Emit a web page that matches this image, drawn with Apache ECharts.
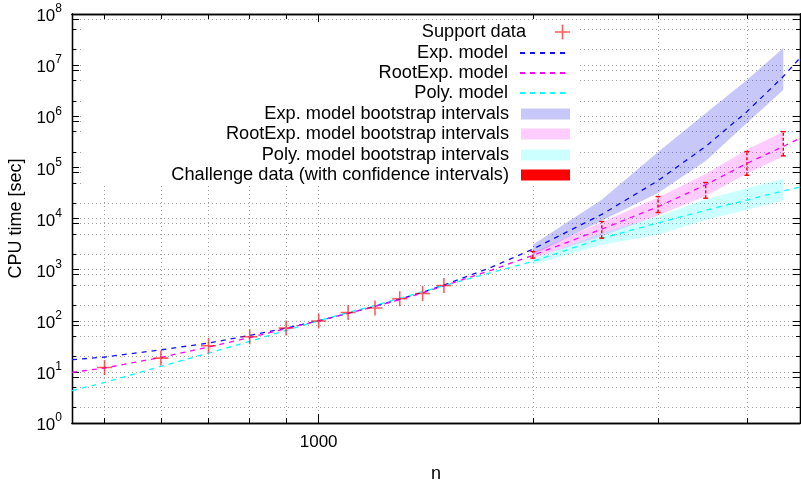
<!DOCTYPE html>
<html>
<head>
<meta charset="utf-8">
<script src="https://cdn.jsdelivr.net/npm/echarts@6/dist/echarts.min.js"></script>
<style>
  html, body { margin: 0; padding: 0; background: #fff; }
  #chart { width: 801px; height: 481px; }
</style>
</head>
<body>
<div id="chart"></div>
<script>
// ---- data ----
var supportN = [500, 600, 700, 800, 900, 1000, 1100, 1200, 1300, 1400, 1500];
var supportT = [12.2, 18.6, 32.4, 48.6, 72, 99, 145, 177, 269, 341, 490];

var modelN    = [450, 500, 600, 700, 800, 900, 1000, 1100, 1200, 1300, 1400, 1500, 1750, 2000, 2500, 3000, 3500, 4000, 4500, 4750];
var expModel  = [17.3, 19.5, 27, 36.6, 51.7, 72, 100, 140, 192, 265, 360, 500, 1120, 2510, 12000, 55000, 257000, 1230000, 6000000, 13800000];
var rootModel = [9.8, 11.9, 19.2, 30.6, 47, 70, 100, 140, 190, 260, 350, 480, 980, 1900, 6200, 17000, 45500, 120000, 257000, 372000];
var polyModel = [4.3, 6.2, 12.8, 23.3, 39.4, 65, 100, 145, 200, 275, 370, 486, 880, 1450, 4100, 8200, 14500, 23000, 34700, 41000];

var bandN      = [2000, 2500, 3000, 3500, 4000, 4500];
var expBandLo  = [1950, 9000, 31700, 134000, 742000, 3270000];
var expBandHi  = [3060, 23200, 200000, 1150000, 5100000, 21700000];
var rootBandLo = [1660, 4520, 11400, 27700, 75700, 165000];
var rootBandHi = [2170, 8490, 25700, 74600, 223000, 500000];
var polyBandLo = [1240, 3060, 4800, 9400, 14800, 22400];
var polyBandHi = [1600, 5200, 11000, 23900, 39000, 59600];

var chalN  = [2000, 2500, 3000, 3500, 4000, 4500];
var chalLo = [1680, 4130, 13100, 25000, 70000, 168000];
var chalHi = [2260, 8730, 26900, 50500, 204000, 500000];

// tick values
var xMajorTicks = [1000];
var xMinorTicks = [500, 600, 700, 800, 900, 2000, 3000, 4000];
var yLabelTicks = [1, 10, 100, 1e3, 1e4, 1e5, 1e6, 1e7, 1e8];
var yMajorTicks = [1, 8, 10, 80, 100, 800, 1e3, 8e3, 1e4, 8e4, 1e5, 8e5, 1e6, 8e6, 1e7, 8e7, 1e8];
var yMinorTicks = [2, 5, 20, 50, 200, 500, 2e3, 5e3, 2e4, 5e4, 2e5, 5e5, 2e6, 5e6, 2e7, 5e7];

var FONT = 'Liberation Sans, Arial, sans-serif';
var gridLine = { show: true, lineStyle: { color: '#a0a0a0', width: 1, type: [1, 3] } };

function xAxisOf(pos, ticks, len, labelled) {
  return {
    type: 'log', logBase: 10, min: 450, max: 4750, position: pos,
    name: labelled ? 'n' : '', nameLocation: 'middle', nameGap: 42,
    nameTextStyle: { fontFamily: FONT, fontSize: 18, color: '#000' },
    axisLine: { show: true, onZero: false, lineStyle: { color: '#000', width: 1.3 } },
    axisTick: { show: true, inside: true, length: len, customValues: ticks, lineStyle: { color: '#000', width: 1 } },
    axisLabel: {
      show: labelled, customValues: ticks, margin: 11, fontFamily: FONT, fontSize: 17, color: '#000',
      formatter: function (v) { return String(Math.round(v)); }
    },
    splitLine: pos === 'bottom' ? gridLine : { show: false },
    minorTick: { show: false }, minorSplitLine: { show: false }
  };
}

function yAxisOf(pos, ticks, len, labelled) {
  return {
    type: 'log', logBase: 10, min: 1, max: 1e8, position: pos,
    name: labelled ? 'CPU time [sec]' : '', nameLocation: 'middle', nameGap: 46,
    nameTextStyle: { fontFamily: FONT, fontSize: 18, color: '#000' },
    axisLine: { show: true, onZero: false, lineStyle: { color: '#000', width: 1.3 } },
    axisTick: { show: true, inside: true, length: len, customValues: ticks, lineStyle: { color: '#000', width: 1 } },
    axisLabel: {
      show: labelled, customValues: yLabelTicks, margin: 10,
      formatter: function (v) { return '{b|10}{s|' + Math.round(Math.log10(v)) + '}'; },
      rich: {
        b: { fontFamily: FONT, fontSize: 17, color: '#000', lineHeight: 22, verticalAlign: 'bottom' },
        s: { fontFamily: FONT, fontSize: 12, color: '#000', lineHeight: 22, verticalAlign: 'top' }
      }
    },
    splitLine: pos === 'left' ? gridLine : { show: false },
    minorTick: { show: false }, minorSplitLine: { show: false }
  };
}

function pairs(xs, ys) {
  return xs.map(function (x, i) { return [x, ys[i]]; });
}

function bandSegments(lo, hi) {
  var out = [];
  for (var i = 0; i < bandN.length - 1; i++) {
    out.push([bandN[i], lo[i], bandN[i + 1], lo[i + 1], hi[i + 1], hi[i]]);
  }
  return out;
}

function renderBand(params, api) {
  var a = api.coord([api.value(0), api.value(1)]);
  var b = api.coord([api.value(2), api.value(3)]);
  var c = api.coord([api.value(2), api.value(4)]);
  var d = api.coord([api.value(0), api.value(5)]);
  return { type: 'polygon', shape: { points: [a, b, c, d] }, style: { fill: api.visual('color') } };
}

function bandSeries(name, color, lo, hi) {
  return {
    name: name, type: 'custom', renderItem: renderBand, z: 3,
    itemStyle: { color: color },
    encode: { x: [0, 2], y: [1, 3, 4, 5] },
    data: bandSegments(lo, hi)
  };
}

function lineSeries(name, color, ys) {
  return {
    name: name, type: 'line', data: pairs(modelN, ys), z: 2,
    symbol: 'none', showSymbol: false,
    itemStyle: { color: color },
    lineStyle: { color: color, width: 1.3, type: [5, 5] }
  };
}

var plusPath = 'path://M0,6.7h15v1.6h-15z M6.7,0h1.6v15h-1.6z';

var legendNames = [
  'Support data', 'Exp. model', 'RootExp. model', 'Poly. model',
  'Exp. model bootstrap intervals', 'RootExp. model bootstrap intervals',
  'Poly. model bootstrap intervals', 'Challenge data (with confidence intervals)'
];
var legendRowY = [32, 53, 73, 93, 114, 134, 155, 175];

var legends = legendNames.map(function (nm, i) {
  var first = i === 0;
  var lg = {
    data: [nm], orient: 'vertical', align: 'right', right: 231, top: legendRowY[i] - 10,
    padding: 0, itemGap: 0, itemWidth: 49, itemHeight: first ? 15 : 11,
    selectedMode: false,
    formatter: function (name) { return name + '{g|}'; },
    textStyle: {
      fontFamily: FONT, fontSize: 18.2, color: '#000', lineHeight: 20,
      rich: { g: { width: 7, lineHeight: 20 } }
    }
  };
  if (first) lg.icon = plusPath;
  if (i >= 1 && i <= 3) lg.itemStyle = { opacity: 0 };
  if (i >= 4) lg.icon = 'rect';
  return lg;
});

var chart = echarts.init(document.getElementById('chart'), null, { renderer: 'canvas' });

chart.setOption({
  animation: false,
  backgroundColor: '#fff',
  grid: { left: 72, right: 1, top: 14, bottom: 58, containLabel: false, outerBoundsMode: 'none' },
  xAxis: [
    xAxisOf('bottom', xMajorTicks, 9, true),
    xAxisOf('bottom', xMinorTicks, 5, false),
    xAxisOf('top', xMajorTicks, 9, false),
    xAxisOf('top', xMinorTicks, 5, false)
  ],
  yAxis: [
    yAxisOf('left', yMajorTicks, 7, true),
    yAxisOf('left', yMinorTicks, 4, false),
    yAxisOf('right', yMajorTicks, 7, false),
    yAxisOf('right', yMinorTicks, 4, false)
  ],
  legend: legends,
  graphic: [{
    type: 'rect', left: 82, top: 22, z: 1, silent: true,
    shape: { width: 496, height: 163 }, style: { fill: '#fff' }
  }],
  series: [
    {
      name: 'Support data', type: 'scatter', data: pairs(supportN, supportT), z: 4,
      symbol: plusPath, symbolSize: 15,
      itemStyle: { color: 'rgba(255,0,0,0.8)' }
    },
    lineSeries('Exp. model', '#1010ff', expModel),
    lineSeries('RootExp. model', '#ff00ff', rootModel),
    lineSeries('Poly. model', '#00ffff', polyModel),
    bandSeries('Exp. model bootstrap intervals', 'rgba(0,0,230,0.22)', expBandLo, expBandHi),
    bandSeries('RootExp. model bootstrap intervals', 'rgba(255,0,255,0.2)', rootBandLo, rootBandHi),
    bandSeries('Poly. model bootstrap intervals', 'rgba(0,255,255,0.2)', polyBandLo, polyBandHi),
    {
      name: 'Challenge data (with confidence intervals)', type: 'custom', z: 5,
      itemStyle: { color: '#ff0000' },
      encode: { x: 0, y: [1, 2] },
      data: chalN.map(function (n, i) { return [n, chalLo[i], chalHi[i]]; }),
      renderItem: function (params, api) {
        var lo = api.coord([api.value(0), api.value(1)]);
        var hi = api.coord([api.value(0), api.value(2)]);
        var st = { stroke: '#ff0000', lineWidth: 1.4 };
        return {
          type: 'group', children: [
            { type: 'line', shape: { x1: lo[0], y1: lo[1], x2: hi[0], y2: hi[1] }, style: { stroke: '#ff0000', lineWidth: 1.4, lineDash: [3, 2] } },
            { type: 'line', shape: { x1: lo[0] - 2.5, y1: lo[1], x2: lo[0] + 2.5, y2: lo[1] }, style: st },
            { type: 'line', shape: { x1: hi[0] - 2.5, y1: hi[1], x2: hi[0] + 2.5, y2: hi[1] }, style: st }
          ]
        };
      }
    }
  ]
});
</script>
</body>
</html>
